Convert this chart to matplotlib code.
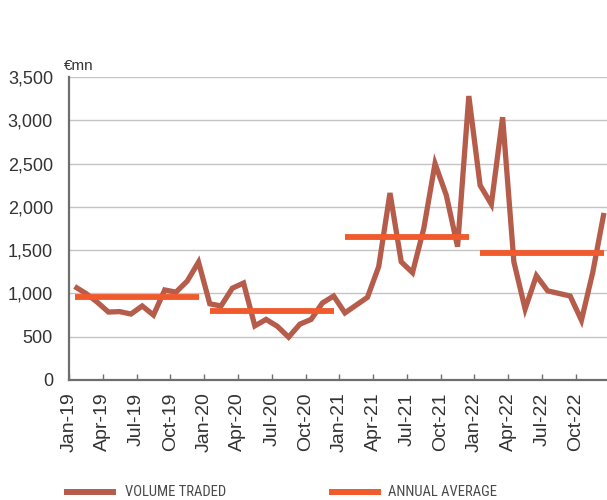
import matplotlib
matplotlib.use("Agg")
import matplotlib.pyplot as plt
from matplotlib.lines import Line2D
from matplotlib.ticker import FuncFormatter
from matplotlib import font_manager
import numpy as np

# Monthly traded volume, Jan-2019 .. Dec-2022 (EUR mn)
months = [f"{m}-{y}" for y in ("19", "20", "21", "22")
          for m in ("Jan", "Feb", "Mar", "Apr", "May", "Jun",
                    "Jul", "Aug", "Sep", "Oct", "Nov", "Dec")]
volume_traded = [
    1080, 1000, 900, 785, 790, 762, 855, 750, 1040, 1015, 1143, 1362,   # 2019
    880, 855, 1060, 1120, 625, 700, 620, 495, 645, 700, 890, 970,       # 2020
    775, 865, 955, 1310, 2160, 1365, 1240, 1750, 2500, 2135, 1540, 3280,  # 2021
    2250, 2030, 3035, 1365, 820, 1205, 1030, 1000, 970, 690, 1240, 1930,  # 2022
]
years = ["2019", "2020", "2021", "2022"]
annual_average = [957, 797, 1656, 1464]

tick_labels = months[::3]
y_ticks = [0, 500, 1000, 1500, 2000, 2500, 3000, 3500]

VOL_COLOR = "#b65c4b"
AVG_COLOR = "#f05a2c"
AXIS_COLOR = "#6e6e70"
GRID_COLOR = "#c4c4c4"
TEXT_COLOR = "#333333"

plt.rcParams["font.family"] = ["Liberation Sans", "DejaVu Sans"]


def narrow_font():
    """Pick a condensed sans family for the legend, if one is installed."""
    fonts = font_manager.fontManager.ttflist
    names = {f.name for f in fonts}
    for fam in ("Liberation Sans Narrow", "Roboto Condensed",
                "Noto Sans Condensed", "Open Sans Condensed",
                "DejaVu Sans Condensed"):
        if fam in names:
            return dict(family=fam)
    for fam in ("Noto Sans", "Open Sans", "Roboto", "Lato", "DejaVu Sans"):
        for stretch in ("extra-condensed", "condensed", "semi-condensed"):
            if any(f.name == fam and f.stretch == stretch and f.style == "normal"
                   for f in fonts):
                return dict(family=fam, stretch=stretch)
    return dict(family="Liberation Sans")


W, H = 607, 500
fig = plt.figure(figsize=(W / 100, H / 100), dpi=100)
ax = fig.add_axes([69 / W, 120 / H, (609.6 - 69) / W, 303 / H])

x = np.arange(len(volume_traded)) + 0.5
ax.plot(x, volume_traded, color=VOL_COLOR, lw=3.8, solid_joinstyle="miter",
        solid_capstyle="butt", zorder=3, clip_on=False)

for i, avg in enumerate(annual_average):
    ax.hlines(avg, i * 12 + 0.5, i * 12 + 11.5, color=AVG_COLOR, lw=4.2,
              zorder=4)

ax.set_xlim(0, len(volume_traded))
ax.set_ylim(0, 3500)
ax.set_yticks(y_ticks)
ax.yaxis.set_major_formatter(FuncFormatter(lambda v, p: f"{int(v):,}"))
ax.set_xticks(np.arange(0, len(months), 3))
ax.set_xticklabels(tick_labels, rotation=90, va="top", ha="center")

ax.grid(axis="y", color=GRID_COLOR, lw=1.0)
ax.set_axisbelow(True)
for side in ("top", "right"):
    ax.spines[side].set_visible(False)
for side in ("left", "bottom"):
    ax.spines[side].set_color(AXIS_COLOR)
    ax.spines[side].set_linewidth(1.6)

ax.tick_params(axis="y", length=0, pad=11.5, labelsize=13, labelcolor=TEXT_COLOR)
ax.tick_params(axis="x", direction="in", length=4, width=1, color=AXIS_COLOR,
               pad=9, labelsize=14, labelcolor=TEXT_COLOR)

fig.text(64 / W, 1 - 66 / H, "€mn", fontsize=11, color=TEXT_COLOR,
         va="center", ha="left")

# Legend row
legend_font = narrow_font()
leg_y = 1 - 491.5 / H
for x0, x1, tx, col, label in [
    (64, 116, 125, VOL_COLOR, "VOLUME TRADED"),
    (329, 381, 388, AVG_COLOR, "ANNUAL AVERAGE"),
]:
    fig.add_artist(Line2D([x0 / W, x1 / W], [leg_y, leg_y],
                          transform=fig.transFigure, color=col, lw=4.3,
                          solid_capstyle="butt"))
    fig.text(tx / W, leg_y, label, fontsize=10.5, color="#4a4a4a",
             va="center", ha="left", **legend_font)

fig.savefig("out.png", dpi=100)
